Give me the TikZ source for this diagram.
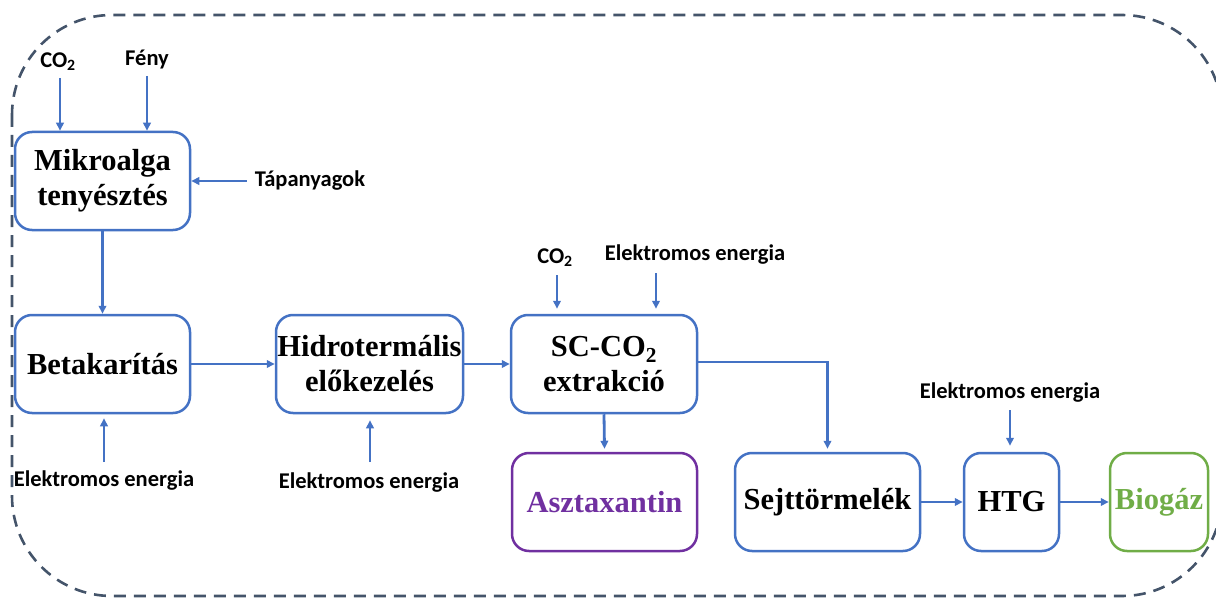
\documentclass[tikz,border=0pt]{standalone}
\usepackage{fontspec}
\setmainfont{Liberation Serif}
\newfontfamily\lblfont{Carlito}
\usetikzlibrary{arrows.meta}
\definecolor{flowblue}{HTML}{4472C4}
\definecolor{frame}{HTML}{44546A}
\definecolor{astapurple}{HTML}{7030A0}
\definecolor{biogreen}{HTML}{70AD47}
\begin{document}
\begin{tikzpicture}[x=1pt,y=-1pt,
  procbox/.style={draw=flowblue, line width=2.5pt, rounded corners=17pt, align=center,
    font=\fontsize{30.5}{35}\selectfont\bfseries, inner sep=0pt},
  lbl/.style={font=\lblfont\bfseries\fontsize{22.5}{26}\selectfont, inner sep=0pt},
  flow/.style={draw=flowblue, line width=2.8pt, -{Triangle[length=8pt,width=7.5pt]}}
]
\useasboundingbox (0,0) rectangle (1216,599);
% frame
\begin{scope}
\clip (0,0) rectangle (1216,599);
\draw[frame, line width=2.6pt, dash pattern=on 12pt off 8pt, rounded corners=100pt]
  (12,15) rectangle (1222,596);
\end{scope}

% boxes
\node[procbox, minimum width=175pt, minimum height=98pt] (mik) at (102.5,181) {Mikroalga\\tenyésztés};
\node[procbox, minimum width=175pt, minimum height=98pt] (bet) at (102.5,364) {Betakarítás};
\node[procbox, minimum width=187pt, minimum height=98pt] (hid) at (369.5,364) {Hidrotermális\\előkezelés};
\node[procbox, minimum width=186pt, minimum height=98pt] (sc) at (604,364) {SC-CO\textsubscript{2}\\extrakció};
\node[procbox, draw=astapurple, text=astapurple, minimum width=185pt, minimum height=98pt] (asz) at (604.5,502) {Asztaxantin};
\node[procbox, minimum width=185pt, minimum height=98pt] (sej) at (827.5,502) {Sejttörmelék};
\node[procbox, minimum width=95pt, minimum height=98pt] (htg) at (1011.5,502) {HTG};
\node[procbox, draw=biogreen, text=biogreen, minimum width=98pt, minimum height=98pt] (bio) at (1159,502) {Biogáz};

% labels
\node[lbl] (co2a) at (58,62) {CO\textsubscript{2}};
\node[lbl] (feny) at (147,60) {Fény};
\node[lbl] (tap) at (310,181) {Tápanyagok};
\node[lbl] (el1) at (104,481) {Elektromos energia};
\node[lbl] (el2) at (369,483) {Elektromos energia};
\node[lbl] (co2b) at (555,258) {CO\textsubscript{2}};
\node[lbl] (el3) at (695,255) {Elektromos energia};
\node[lbl] (el4) at (1010,393) {Elektromos energia};

% connectors
\draw[flow] (60,78) -- (mik.north -| 60,0);
\draw[flow] (147,76) -- (mik.north -| 147,0);
\draw[flow] (tap.west) ++(-8,0) -- (mik.east);
\draw[flow] (mik.south) -- (bet.north);
\draw[flow] (104,462) -- ([yshift=-4pt]bet.south -| 104,0);
\draw[flow] (bet.east) -- (hid.west);
\draw[flow] (370,462) -- ([yshift=-6pt]hid.south -| 370,0);
\draw[flow] (hid.east) -- (sc.west);
\draw[flow] (557,275) -- ([yshift=5pt]sc.north -| 557,0);
\draw[flow] (656,273) -- ([yshift=5pt]sc.north -| 656,0);
\draw[flow] (sc.south) -- ([yshift=3pt]asz.north);
\draw[flow] ([yshift=2pt]sc.east) -| ([yshift=3pt]sej.north);
\draw[flow] (1010,410) -- ([yshift=6pt]htg.north -| 1010,0);
\draw[flow] (sej.east) -- (htg.west);
\draw[flow] (htg.east) -- (bio.west);
\end{tikzpicture}
\end{document}
